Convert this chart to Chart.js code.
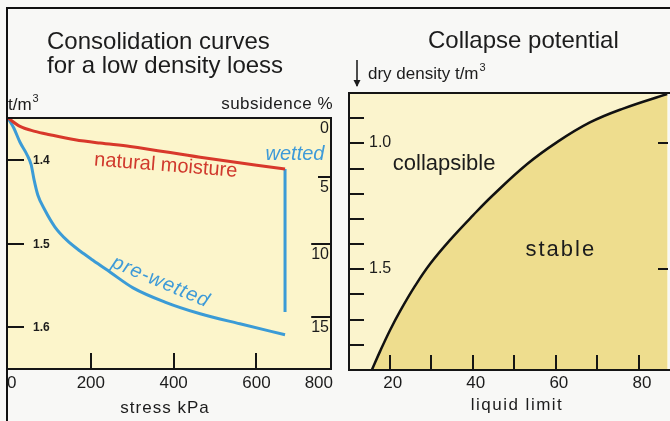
<!DOCTYPE html>
<html>
<head>
<meta charset="utf-8">
<script src="https://cdn.jsdelivr.net/npm/chart.js@4.4.0/dist/chart.umd.min.js"></script>
<style>
  html, body { margin: 0; padding: 0; background: #f8f8f6; }
  #wrap { position: relative; width: 670px; height: 421px; overflow: hidden;
          font-family: 'Liberation Sans', Arial, sans-serif; color: #1c1c1c; }
  #frame { position: absolute; left: 6px; top: 7px; width: 680px; height: 430px;
           border-top: 2px solid #111; border-left: 2px solid #111; }
  canvas { position: absolute; top: 0; }
  .title { position: absolute; white-space: nowrap; font-size: 24px; line-height: 24px; }
</style>
</head>
<body>
<div id="wrap">
  <div id="frame"></div>
  <canvas id="consolidation" width="340" height="421" style="left:0"></canvas>
  <canvas id="collapse" width="330" height="421" style="left:340px"></canvas>
  <div class="title" style="left:47px;top:29px">Consolidation curves<br>for a low density loess</div>
  <div class="title" style="left:428px;top:28px">Collapse potential</div>
</div>
<script>
const FONT = "'Liberation Sans', Arial, sans-serif";

// Consolidation curves (stress kPa -> density t/m3)
const stressNatural = [0, 29, 65, 101, 162, 222, 295, 464, 669];
const densityNatural = [1.350, 1.360, 1.366, 1.370, 1.376, 1.380, 1.384, 1.397, 1.411];
const stressPreWetted = [0, 14, 29, 46, 56, 63, 72, 89, 113, 142, 174, 205, 246, 302, 379, 464, 560, 669];
const densityPreWetted = [1.350, 1.362, 1.379, 1.394, 1.406, 1.424, 1.442, 1.460, 1.480, 1.496,
                          1.509, 1.520, 1.534, 1.553, 1.570, 1.584, 1.596, 1.609];
const stressWetted = [669, 669];
const densityWetted = [1.411, 1.582];
const initialDensity = 1.35;
const densityTicks = [1.4, 1.5, 1.6];
const subsidenceTicks = [0, 5, 10, 15];
const stressTicks = [0, 200, 400, 600, 800];

// Collapse potential boundary (liquid limit -> dry density t/m3)
const liquidLimit = [15.7, 17.7, 20.1, 22.5, 26.1, 29.7, 34.5, 40.1, 44.9, 53.1, 60.3, 68.2, 76.2, 86.8];
const dryDensity = [1.900, 1.825, 1.741, 1.666, 1.566, 1.479, 1.384, 1.285, 1.205, 1.082,
                    0.995, 0.917, 0.862, 0.804];
const dryDensityTicks = [0.9, 1.0, 1.1, 1.2, 1.3, 1.4, 1.5, 1.6, 1.7, 1.8];
const dryDensityLabels = [1.0, 1.5];
const liquidLimitTicks = [20, 30, 40, 50, 60, 70, 80];
const liquidLimitLabels = [20, 40, 60, 80];

const toPoints = (xs, ys) => xs.map((x, i) => ({ x: x, y: ys[i] }));

function superscriptLabel(ctx, text, sup, x, y, size) {
    ctx.font = size + 'px ' + FONT;
    ctx.textAlign = 'left';
    ctx.textBaseline = 'middle';
    ctx.fillText(text, x, y);
    const w = ctx.measureText(text).width;
    ctx.font = Math.round(size * 0.65) + 'px ' + FONT;
    ctx.fillText(sup, x + w + 1, y - size * 0.35);
}

function rotatedText(ctx, text, x, y, angle) {
    ctx.save();
    ctx.translate(x, y);
    ctx.rotate(angle * Math.PI / 180);
    ctx.textAlign = 'center';
    ctx.textBaseline = 'middle';
    ctx.fillText(text, 0, 0);
    ctx.restore();
}

const consolidationDecor = {
    id: 'consolidationDecor',
    beforeDraw(chart) {
        const { ctx, chartArea: a } = chart;
        ctx.save();
        ctx.fillStyle = '#fcf5cb';
        ctx.fillRect(a.left, a.top, a.right - a.left, a.bottom - a.top);
        ctx.restore();
    },
    afterDraw(chart) {
        const { ctx, chartArea: a, scales } = chart;
        const x = scales.x, y = scales.y;
        ctx.save();
        ctx.strokeStyle = '#151515';
        ctx.fillStyle = '#1c1c1c';
        ctx.lineWidth = 2;

        // frame: top, right, bottom
        ctx.beginPath();
        ctx.moveTo(a.left, a.top);
        ctx.lineTo(a.right, a.top);
        ctx.lineTo(a.right, a.bottom);
        ctx.lineTo(a.left, a.bottom);
        ctx.stroke();

        // density ticks (left, inside)
        ctx.font = 'bold 12px ' + FONT;
        ctx.textAlign = 'left';
        ctx.textBaseline = 'middle';
        densityTicks.forEach(v => {
            const py = Math.round(y.getPixelForValue(v));
            ctx.beginPath();
            ctx.moveTo(a.left, py);
            ctx.lineTo(a.left + 16, py);
            ctx.stroke();
            ctx.fillText(v.toFixed(1), a.left + 25, py + 1);
        });

        // subsidence ticks (right, inside), placed on the density scale
        ctx.font = '16px ' + FONT;
        ctx.textAlign = 'right';
        subsidenceTicks.forEach(s => {
            const py = Math.round(y.getPixelForValue(initialDensity / (1 - s / 100)));
            const w = Math.max(ctx.measureText(String(s)).width, 11);
            ctx.beginPath();
            ctx.moveTo(a.right - w - 2, py);
            ctx.lineTo(a.right, py);
            ctx.stroke();
            ctx.fillText(String(s), a.right - 2, py + 11);
        });

        // stress ticks (bottom, inside)
        stressTicks.forEach(v => {
            if (v <= x.min || v >= x.max) return;
            const px = Math.round(x.getPixelForValue(v));
            ctx.beginPath();
            ctx.moveTo(px, a.bottom);
            ctx.lineTo(px, a.bottom - 16);
            ctx.stroke();
        });
        ctx.font = '17px ' + FONT;
        ctx.textAlign = 'left';
        stressTicks.forEach(v => {
            const label = String(v);
            const w = ctx.measureText(label).width;
            let lx = x.getPixelForValue(v) - w / 2;
            lx = Math.min(Math.max(lx, a.left - 1), a.right + 2 - w);
            ctx.fillText(label, lx, a.bottom + 14);
        });

        // axis titles
        ctx.font = '17px ' + FONT;
        ctx.textAlign = 'center';
        ctx.letterSpacing = '1px';
        ctx.fillText('stress kPa', 165, 408);
        ctx.textAlign = 'right';
        ctx.letterSpacing = '0.5px';
        ctx.fillText('subsidence %', a.right + 2, 104);
        ctx.letterSpacing = '0px';
        superscriptLabel(ctx, 't/m', '3', a.left, 105, 17);

        // curve labels
        ctx.font = '20px ' + FONT;
        ctx.fillStyle = '#d0392d';
        rotatedText(ctx, 'natural moisture', x.getPixelForValue(381), y.getPixelForValue(1.407), 4.6);
        ctx.fillStyle = '#3d9ad8';
        ctx.font = 'italic 20px ' + FONT;
        rotatedText(ctx, 'wetted', x.getPixelForValue(693), y.getPixelForValue(1.394), 0);
        ctx.letterSpacing = '1px';
        rotatedText(ctx, 'pre-wetted', x.getPixelForValue(369), y.getPixelForValue(1.546), 23);
        ctx.restore();
    }
};

const collapseDecor = {
    id: 'collapseDecor',
    beforeDraw(chart) {
        const { ctx, chartArea: a } = chart;
        ctx.save();
        ctx.fillStyle = '#fbf4cd';
        ctx.fillRect(a.left, a.top, a.right - a.left, a.bottom - a.top);
        ctx.restore();
    },
    afterDraw(chart) {
        const { ctx, chartArea: a, scales } = chart;
        const x = scales.x, y = scales.y;
        ctx.save();
        ctx.strokeStyle = '#151515';
        ctx.fillStyle = '#1c1c1c';
        ctx.lineWidth = 2;

        // frame: top, left, bottom
        ctx.beginPath();
        ctx.moveTo(a.right + 4, a.top);
        ctx.lineTo(a.left, a.top);
        ctx.lineTo(a.left, a.bottom);
        ctx.lineTo(a.right + 4, a.bottom);
        ctx.stroke();

        // dry density ticks
        ctx.font = '16px ' + FONT;
        ctx.textAlign = 'left';
        ctx.textBaseline = 'middle';
        dryDensityTicks.forEach(v => {
            const py = Math.round(y.getPixelForValue(v));
            ctx.beginPath();
            ctx.moveTo(a.left, py);
            ctx.lineTo(a.left + 15, py);
            ctx.stroke();
        });
        dryDensityLabels.forEach(v => {
            const py = Math.round(y.getPixelForValue(v));
            ctx.fillText(v.toFixed(1), a.left + 20, py);
            ctx.beginPath();
            ctx.moveTo(a.right - 10, py);
            ctx.lineTo(a.right, py);
            ctx.stroke();
        });

        // liquid limit ticks
        liquidLimitTicks.forEach(v => {
            const px = Math.round(x.getPixelForValue(v));
            ctx.beginPath();
            ctx.moveTo(px, a.bottom);
            ctx.lineTo(px, a.bottom - 15);
            ctx.stroke();
        });
        ctx.font = '17px ' + FONT;
        ctx.textAlign = 'center';
        liquidLimitLabels.forEach(v => {
            ctx.fillText(String(v), x.getPixelForValue(v) + 3, a.bottom + 13);
        });

        // axis titles
        ctx.letterSpacing = '1.5px';
        ctx.fillText('liquid limit', 177, 405);
        ctx.letterSpacing = '0px';
        // down arrow
        ctx.lineWidth = 1.5;
        ctx.beginPath();
        ctx.moveTo(17, 60);
        ctx.lineTo(17, 86);
        ctx.stroke();
        ctx.beginPath();
        ctx.moveTo(13.5, 80);
        ctx.lineTo(17, 87);
        ctx.lineTo(20.5, 80);
        ctx.fill();
        superscriptLabel(ctx, 'dry density t/m', '3', 28, 74, 17);

        // region labels
        ctx.font = '22px ' + FONT;
        rotatedText(ctx, 'collapsible', x.getPixelForValue(33.1), y.getPixelForValue(1.082), 0);
        ctx.letterSpacing = '2px';
        rotatedText(ctx, 'stable', x.getPixelForValue(61.2), y.getPixelForValue(1.424), 0);
        ctx.restore();
    }
};

new Chart(document.getElementById('consolidation'), {
    type: 'line',
    data: {
        datasets: [{
            label: 'natural moisture',
            data: toPoints(stressNatural, densityNatural),
            borderColor: '#d8382b',
            borderWidth: 3,
            cubicInterpolationMode: 'monotone',
            pointRadius: 0,
            fill: false
        }, {
            label: 'pre-wetted',
            data: toPoints(stressPreWetted, densityPreWetted),
            borderColor: '#3b9bd6',
            borderWidth: 3,
            cubicInterpolationMode: 'monotone',
            pointRadius: 0,
            fill: false
        }, {
            label: 'wetted',
            data: toPoints(stressWetted, densityWetted),
            borderColor: '#3b9bd6',
            borderWidth: 3,
            tension: 0,
            pointRadius: 0,
            fill: false
        }]
    },
    options: {
        responsive: false,
        animation: false,
        layout: { padding: { left: 8, top: 118, right: 9, bottom: 52 } },
        plugins: { legend: { display: false }, tooltip: { enabled: false } },
        scales: {
            x: { type: 'linear', min: 0, max: 780, display: false },
            y: { type: 'linear', min: 1.35, max: 1.65, reverse: true, display: false }
        }
    },
    plugins: [consolidationDecor]
});

new Chart(document.getElementById('collapse'), {
    type: 'line',
    data: {
        datasets: [{
            label: 'collapse boundary',
            data: toPoints(liquidLimit, dryDensity),
            borderColor: '#111111',
            borderWidth: 2.5,
            backgroundColor: '#eedd8e',
            tension: 0.4,
            pointRadius: 0,
            fill: { value: 1.9 }
        }]
    },
    options: {
        responsive: false,
        animation: false,
        layout: { padding: { left: 9, top: 93, right: 2, bottom: 51 } },
        plugins: { legend: { display: false }, tooltip: { enabled: false } },
        scales: {
            x: { type: 'linear', min: 10.2, max: 87, display: false },
            y: { type: 'linear', min: 0.8, max: 1.9, reverse: true, display: false }
        }
    },
    plugins: [collapseDecor]
});
</script>
</body>
</html>
